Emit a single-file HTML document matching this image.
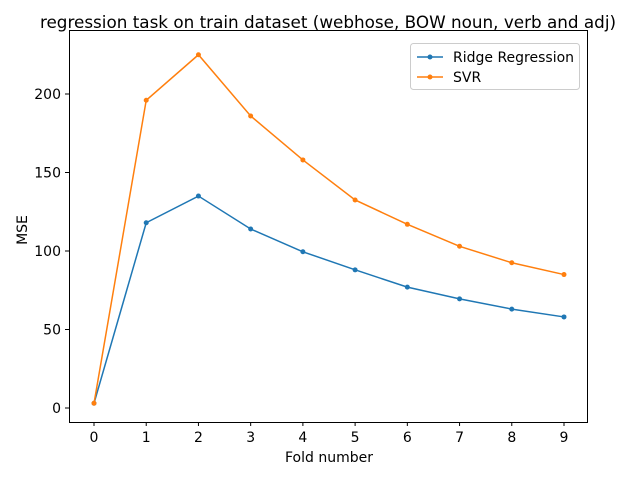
<!DOCTYPE html>
<html><head><meta charset="utf-8"><style>body{margin:0;background:#fff}svg{display:block;font-family:"DejaVu Sans","Liberation Sans",sans-serif}</style></head>
<body>
<svg id="c" width="640" height="480"></svg>
<script>
const categories=[0,1,2,3,4,5,6,7,8,9];
const ridgeValues=[3,118,135,114,99.5,88,77,69.5,63,58];
const svrValues=[3,196,225,186,158,132.5,117,103,92.5,85];
const yTicks=[0,50,100,150,200];
const NS="http://www.w3.org/2000/svg";
const svg=document.getElementById('c');
const X=v=>94+v*(564-94)/9;
const Y=v=>408-v*(408-94)/200;
function el(t,a,p){const e=document.createElementNS(NS,t);for(const k in a)e.setAttribute(k,a[k]);(p||svg).appendChild(e);return e;}
const t=el('text',{x:328,y:28,'text-anchor':'middle','font-size':16.8});t.textContent='regression task on train dataset (webhose, BOW noun, verb and adj)';

categories.forEach(c=>{el('line',{x1:X(c),x2:X(c),y1:422,y2:426,stroke:'#000'});const l=el('text',{x:X(c),y:442,'text-anchor':'middle','font-size':14});l.textContent=c;
});
yTicks.forEach(v=>{el('line',{x1:65,x2:69,y1:Y(v),y2:Y(v),stroke:'#000'});const l=el('text',{x:61,y:Y(v)+5,'text-anchor':'end','font-size':14});l.textContent=v;
});
const xl=el('text',{x:329,y:462,'text-anchor':'middle','font-size':14});xl.textContent='Fold number';

const yl=el('text',{x:27,y:230,'text-anchor':'middle','font-size':14,transform:'rotate(-90 27 230)'});yl.textContent='MSE';

function series(vals,color,name){const g=el('g',{});
el('polyline',{points:vals.map((v,i)=>X(categories[i])+','+Y(v)).join(' '),fill:'none',stroke:color,'stroke-width':1.5},g);
vals.forEach((v,i)=>{const c=el('circle',{cx:X(categories[i]),cy:Y(v),r:2.5,fill:color},g);});}
series(ridgeValues,'#1f77b4','ridge-series');
series(svrValues,'#ff7f0e','svr-series');
const f=el('rect',{x:69.5,y:30.5,width:518,height:392,fill:'none',stroke:'#000','stroke-width':1});

const lg=el('g',{});
el('rect',{x:410.5,y:43.5,width:169,height:46,rx:3,fill:'#fff',stroke:'#ccc'},lg);
[['Ridge Regression','#1f77b4',57],['SVR','#ff7f0e',77]].forEach(([n,c,y])=>{el('line',{x1:417,x2:443,y1:y,y2:y,stroke:c,'stroke-width':1.5},lg);el('circle',{cx:430,cy:y,r:2.5,fill:c},lg);
const tx=el('text',{x:453,y:y+5,'font-size':14},lg);tx.textContent=n;});
</script>
</body></html>
